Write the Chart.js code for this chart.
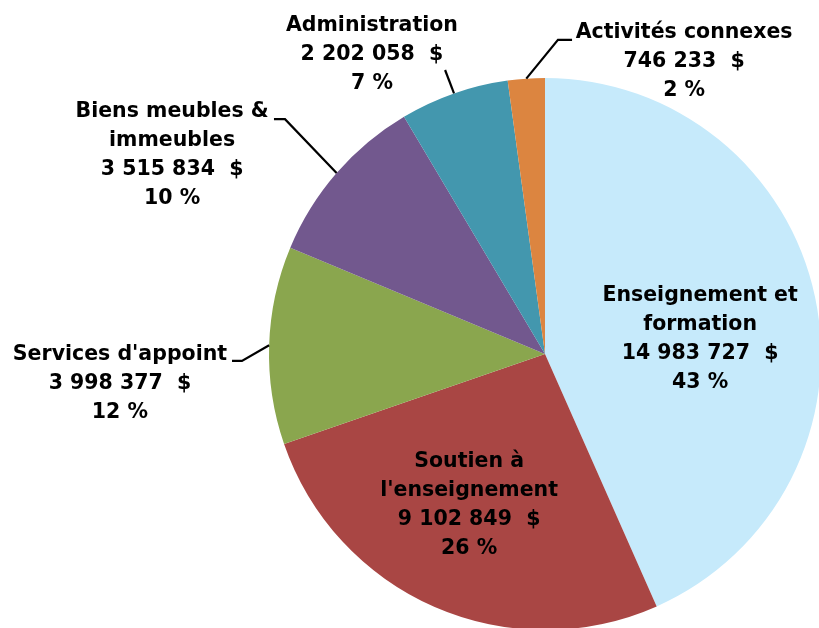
<!DOCTYPE html>
<html><head><meta charset="utf-8">
<script src="https://cdn.jsdelivr.net/npm/chart.js@4/dist/chart.umd.min.js"></script>
<style>
html,body{margin:0;padding:0;overflow:hidden;background:#fff;width:819px;height:628px}
#wrap{position:absolute;left:0;top:0;width:840px;height:650px}
</style>
</head><body><div id="wrap"><canvas id="c" width="840" height="650"></canvas></div>
<script>
const categories = ["Enseignement et\nformation", "Soutien à\nl'enseignement", "Services d'appoint", "Biens meubles &\nimmeubles", "Administration", "Activités connexes"];
const amounts = [14983727, 9102849, 3998377, 3515834, 2202058, 746233];
const percents = [43, 26, 12, 10, 7, 2];
const colors = ["#C6EAFB", "#A94644", "#8AA64E", "#72588E", "#4397AE", "#DC8540"];

// label layout, in units of the pie radius, relative to the pie centre
const labelPos = [[0.562,-0.053],[-0.275,0.547],[-1.540,0.107],[-1.351,-0.719],[-0.627,-1.085],[0.504,-1.060]];
const leaders = [null, null, [[-1.098,0.025],[-1.134,0.025]], [[-0.942,-0.851],[-0.982,-0.851]], [[-0.362,-1.029]], [[0.047,-1.138],[0.098,-1.138]]];

function fmtAmount(v){ return String(v).replace(/\B(?=(\d{3})+(?!\d))/g,' ') + '  $'; }

const labelPlugin = {
  id:'labels',
  afterDatasetsDraw(chart){
    const ctx = chart.ctx;
    const meta = chart.getDatasetMeta(0);
    ctx.save();
    meta.data.forEach((arc,i)=>{
      const R = arc.outerRadius, cx = arc.x, cy = arc.y;
      const lead = leaders[i];
      if (lead){
        const mid = (arc.startAngle+arc.endAngle)/2;
        ctx.beginPath();
        ctx.moveTo(cx + Math.cos(mid)*R, cy + Math.sin(mid)*R);
        lead.forEach(p=>ctx.lineTo(cx+p[0]*R, cy+p[1]*R));
        ctx.strokeStyle='#000'; ctx.lineWidth=2.2; ctx.stroke();
      }
      const lines = categories[i].split('\n').concat([fmtAmount(amounts[i]), percents[i]+' %']);
      const tx = cx + labelPos[i][0]*R, ty = cy + labelPos[i][1]*R;
      ctx.fillStyle='#000';
      ctx.font='bold 20.5px "DejaVu Sans"';
      ctx.textAlign='center'; ctx.textBaseline='middle';
      const lh=29;
      lines.forEach((t,k)=>ctx.fillText(t, tx, ty + (k-(lines.length-1)/2)*lh));
    });
    ctx.restore();
  }
};

new Chart(document.getElementById('c'), {
  type:'pie',
  data:{ labels: categories.map(c=>c.replace('\n',' ')), datasets:[{ data: amounts, backgroundColor: colors, borderWidth:0 }] },
  options:{
    responsive:false, animation:false, devicePixelRatio:1,
    layout:{ padding:{ left:269, top:78, right:19, bottom:20 } },
    plugins:{ legend:{display:false}, tooltip:{enabled:false} }
  },
  plugins:[labelPlugin]
});
</script></body></html>
